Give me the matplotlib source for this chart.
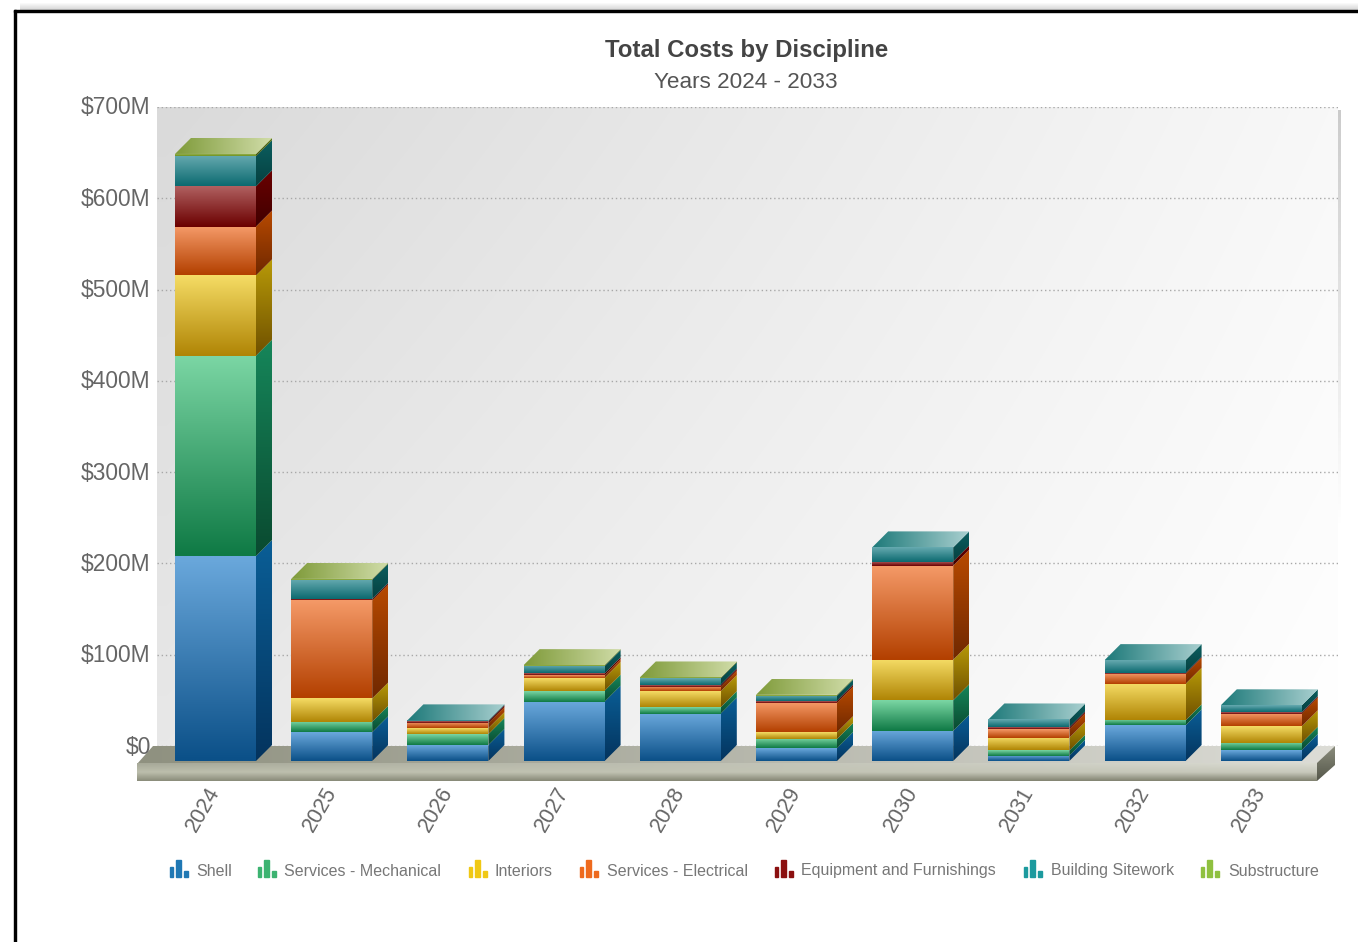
import numpy as np
import matplotlib
matplotlib.use("Agg")
import matplotlib.pyplot as plt
from matplotlib.colors import to_rgb
from matplotlib.patches import Polygon, Rectangle
from matplotlib.transforms import ScaledTranslation

plt.rcParams["font.family"] = ["Liberation Sans", "DejaVu Sans"]

# ---------- dados (milhoes de dolares) ----------
years = ["2024", "2025", "2026", "2027", "2028", "2029", "2030", "2031", "2032", "2033"]
shell = [224.5, 31.5, 17.5, 65, 52, 14, 33, 6, 39, 12]
mechanical = [219.5, 11.5, 12, 12, 7, 10, 33.5, 5.5, 5.5, 8]
interiors = [88, 25.5, 6.5, 14, 17.5, 7.5, 44.5, 14, 40, 18]
electrical = [53.5, 107.5, 5.5, 3, 5, 32.5, 103, 9.5, 11, 14]
equipment = [44, 1.5, 2, 2, 2, 2, 4.5, 2, 1, 1.5]
sitework = [33, 21, 1, 8, 7, 5.5, 15.5, 8.5, 14, 7.5]
substructure = [2.5, 1, 0, 1, 1, 1, 0, 0, 0, 0]
y_ticks = [0, 100, 200, 300, 400, 500, 600, 700]
y_labels = ["$0", "$100M", "$200M", "$300M", "$400M", "$500M", "$600M", "$700M"]

series = [
    ("Shell", shell, "#6aa8dc", "#0b5088", "#0a5e96", "#04345e", "#1f78b4"),
    ("Services - Mechanical", mechanical, "#7bd6a4", "#0f7a45", "#16865a", "#0a4a30", "#3cb371"),
    ("Interiors", interiors, "#f5dc65", "#b08505", "#b89a08", "#6f5000", "#f0c814"),
    ("Services - Electrical", electrical, "#f59a68", "#b34000", "#b84a00", "#702800", "#ee6a1e"),
    ("Equipment and Furnishings", equipment, "#b06060", "#6b0000", "#6a0000", "#400000", "#8b1010"),
    ("Building Sitework", sitework, "#66aab0", "#0c6a70", "#0b5f60", "#064040", "#1c9a9e"),
    ("Substructure", substructure, "#a8c060", "#6d9020", "#5d7a18", "#3d5510", "#8fc040"),
]
top_colors = {"Building Sitework": ("#1e7a7a", "#a8cfcf"), "Substructure": ("#7f9b3a", "#d0dca8")}
legend_icon_x = [170, 258, 469, 580, 775, 1024, 1201]
legend_text_x = [196, 284, 495, 607, 801, 1051, 1228]

W, H = 1358, 942
fig = plt.figure(figsize=(W / 100, H / 100), dpi=100)

# ---------- camada de fundo em pixels ----------
deco = fig.add_axes([0, 0, 1, 1], zorder=0)
deco.set_xlim(0, W)
deco.set_ylim(H, 0)
deco.axis("off")


def ramp(corners, rows=64, cols=64):
    """Grade RGB suave a partir de 4 cantos (sup-esq, sup-dir, inf-esq, inf-dir)."""
    tl, tr, bl, br = [np.array(to_rgb(c)) for c in corners]
    v = np.linspace(0, 1, rows)[:, None, None]
    u = np.linspace(0, 1, cols)[None, :, None]
    return (tl * (1 - u) + tr * u) * (1 - v) + (bl * (1 - u) + br * u) * v


def gradient(a, poly, colors, horizontal=False, zorder=2):
    poly = np.asarray(poly, dtype=float)
    c0, c1 = colors
    arr = ramp((c0, c1, c0, c1) if horizontal else (c0, c0, c1, c1))
    x0, y0 = poly.min(axis=0)
    x1, y1 = poly.max(axis=0)
    # linha 0 do array fica no topo da figura, em qualquer sentido do eixo y
    top, bottom = (y1, y0) if a.get_ylim()[1] > a.get_ylim()[0] else (y0, y1)
    im = a.imshow(arr, extent=(x0, x1, bottom, top), origin="upper", aspect="auto",
                  interpolation="bilinear", zorder=zorder)
    im.set_clip_path(Polygon(poly, transform=a.transData))
    im.set_clip_box(fig.bbox)


# piso
gradient(deco, [(137, 764), (153, 746), (1335, 746), (1317, 764)], ("#8f9180", "#dcdcd6"), horizontal=True)
upper = ramp(("#a6a898", "#dadbd2", "#bcbeac", "#c8c9bc"), rows=32)
lower = ramp(("#bcbeac", "#c8c9bc", "#8a8c7a", "#80816f"), rows=32)
deco.imshow(np.vstack([upper, lower]), extent=(137, 1317, 781, 763), aspect="auto",
            interpolation="bilinear", zorder=2)
gradient(deco, [(1317, 763), (1335, 746), (1335, 765), (1317, 781)], ("#8a8c7c", "#55574a"))

# moldura e sombras
deco.add_patch(Rectangle((14, 10), 2, H, color="black", zorder=5))
deco.add_patch(Rectangle((14, 10), W, 2, color="black", zorder=5))
top_shadow = np.zeros((8, 1, 4))
top_shadow[..., :3] = 0.6
top_shadow[:, 0, 3] = np.linspace(0, 0.4, 8)
deco.imshow(top_shadow, extent=(20, W, 10, 2), aspect="auto", zorder=1)
right_shadow = np.zeros((64, 1, 4))
right_shadow[..., :3] = 0.78
right_shadow[:, 0, 3] = np.linspace(0.9, 0, 64)
deco.imshow(right_shadow, extent=(1336, 1341, 530, 110), aspect="auto", zorder=1)
deco.set_xlim(0, W)
deco.set_ylim(H, 0)

# ---------- area de dados ----------
px_per_m = 91.3 / 100
px_per_cat = 116.2
ax_l, ax_r, ax_t, ax_b = 157, 1338, 107, 746
ax = fig.add_axes([ax_l / W, 1 - ax_b / H, (ax_r - ax_l) / W, (ax_b - ax_t) / H], zorder=1)
ax.patch.set_visible(False)
xlim = ((ax_l - 215.5) / px_per_cat, (ax_r - 215.5) / px_per_cat)
ylim = (0, 700)
ax.set_xlim(*xlim)
ax.set_ylim(*ylim)

ax.imshow(ramp(("#dadada", "#f8f8f8", "#e8e8e8", "#ffffff")), extent=(*xlim, *ylim), origin="upper",
          aspect="auto", interpolation="bilinear", zorder=0)

half = 40.5 / px_per_cat
dx = 16 / px_per_cat
dy = 16 / px_per_m
base = -15 / px_per_m
for i in range(len(years)):
    left, right = i - half, i + half
    y = base
    top_name = None
    for name, vals, f0, f1, s0, s1, _ in series:
        v = vals[i]
        if v <= 0:
            continue
        y0, y1 = y, y + v
        gradient(ax, [(left, y0), (right, y0), (right, y1), (left, y1)], (f0, f1), zorder=3)
        gradient(ax, [(right, y0), (right + dx, y0 + dy), (right + dx, y1 + dy), (right, y1)], (s0, s1), zorder=3)
        y = y1
        top_name = name
    gradient(ax, [(left, y), (left + dx, y + dy), (right + dx, y + dy), (right, y)], top_colors[top_name],
             horizontal=True, zorder=3)
ax.set_xlim(*xlim)
ax.set_ylim(*ylim)

ax.yaxis.grid(True, color="#a8a8a8", linestyle=(0, (1, 2)), linewidth=1)
for line in ax.get_ygridlines():
    line.set_zorder(1)
ax.set_axisbelow(False)
for s in ax.spines.values():
    s.set_visible(False)
ax.set_yticks(y_ticks, y_labels, fontsize=16.4, color="#666666")
ax.set_xticks(range(len(years)), years, fontsize=15.5, color="#666666", rotation=60)
ax.tick_params(axis="both", length=0)
ax.tick_params(axis="y", pad=4.5)
ax.tick_params(axis="x", pad=27)
shift_x = ScaledTranslation(-12 / 100, 0, fig.dpi_scale_trans)
for lab in ax.get_xticklabels():
    lab.set_transform(lab.get_transform() + shift_x)
shift_y = ScaledTranslation(0, 1.5 / 100, fig.dpi_scale_trans)
for lab in ax.get_yticklabels():
    lab.set_transform(lab.get_transform() + shift_y)

# ---------- titulo e legenda ----------
deco.text(747, 51, "Total Costs by Discipline", ha="center", va="center", fontsize=17.3, fontweight="bold", color="#444444")
deco.text(746, 82, "Years 2024 - 2033", ha="center", va="center", fontsize=16.2, color="#555555")
for (name, *_rest), ix, tx in zip(series, legend_icon_x, legend_text_x):
    color = _rest[-1]
    for off, w, h in zip((0, 6, 14), (3, 5, 4), (10, 17, 6)):
        deco.add_patch(Rectangle((ix + off, 877 - h), w, h, color=color, zorder=3))
    deco.text(tx, 871, name, ha="left", va="center", fontsize=11.5, color="#777777")

fig.savefig("out.png", dpi=100)
